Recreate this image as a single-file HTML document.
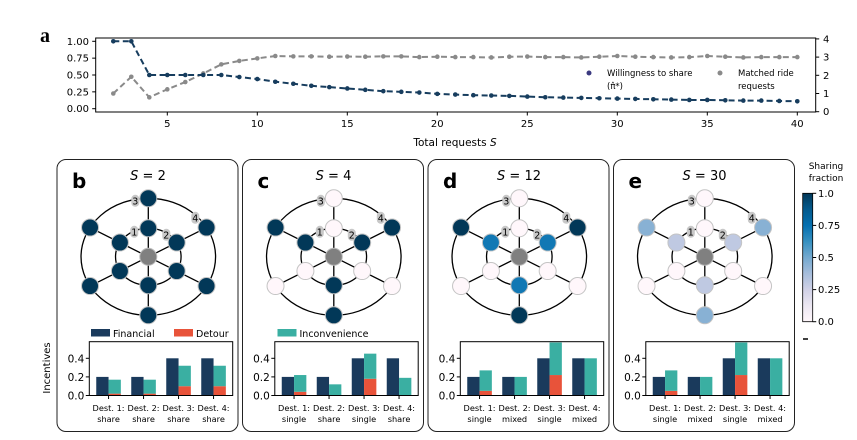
<!DOCTYPE html>
<html><head><meta charset="utf-8"><style>
body{margin:0;background:#fff;}
svg{display:block;font-family:"DejaVu Sans","Liberation Sans",sans-serif;}
</style></head><body>
<svg id="fig" width="857" height="440" viewBox="0 0 857 440"></svg>
<script>
// ---- panel a data ----
const reqS = [2,3,4,5,6,7,8,9,10,11,12,13,14,15,16,17,18,19,20,21,22,23,24,25,26,27,28,29,30,31,32,33,34,35,36,37,38,39,40];
const willingness = [1.0,1.0,0.5,0.5,0.5,0.5,0.5,0.47,0.44,0.40,0.37,0.34,0.32,0.30,0.28,0.26,0.25,0.24,0.22,0.21,0.20,0.195,0.19,0.18,0.17,0.165,0.16,0.155,0.15,0.145,0.14,0.135,0.13,0.13,0.125,0.12,0.12,0.115,0.11];
const matched = [1.0,1.92,0.79,1.23,1.63,2.1,2.6,2.79,2.93,3.06,3.04,3.04,3.02,3.03,3.02,3.04,3.04,3.0,3.02,3.0,3.0,2.98,3.02,3.03,3.0,3.0,2.98,3.02,3.06,3.02,3.0,2.98,3.0,3.06,3.02,2.98,3.0,3.0,3.0];
const xTicks = [5,10,15,20,25,30,35,40];
const yLeftTicks = ["0.00","0.25","0.50","0.75","1.00"];
const yRightTicks = [0,1,2,3,4];
// ---- panels b-e data ----
const panelLetters = ["b","c","d","e"];
const panelS = [2,4,12,30];
// node order: outerTop, innerTop, outerUL, innerUL, outerUR, innerUR, outerLL, innerLL, outerLR, innerLR, innerB, outerB
const nodeFractions = [
 [1,1,1,1,1,1,1,1,1,1,1,1],
 [0,0,1,1,1,1,0,0,0,0,1,1],
 [0,0,1,0.72,1,0.72,0,0,0,0,0.72,1],
 [0,0,0.45,0.3,0.45,0.3,0,0,0,0,0.3,0.45]
];
const destCats = ["Dest. 1:","Dest. 2:","Dest. 3:","Dest. 4:"];
const destModes = [["share","share","share","share"],["single","share","single","share"],["single","mixed","single","mixed"],["single","mixed","single","mixed"]];
const financial = [[0.2,0.2,0.4,0.4],[0.2,0.2,0.4,0.4],[0.2,0.2,0.4,0.4],[0.2,0.2,0.4,0.4]];
const detour = [[0.02,0.02,0.1,0.1],[0.04,0,0.18,0],[0.05,0,0.22,0],[0.05,0,0.22,0]];
const inconvenience = [[0.15,0.15,0.22,0.22],[0.18,0.12,0.27,0.19],[0.22,0.2,0.35,0.4],[0.22,0.2,0.35,0.4]];
const barTicks = ["0.0","0.2","0.4"];
const cbTicks = ["0.0","0.25","0.5","0.75","1.0"];

const NS="http://www.w3.org/2000/svg";
const svg=document.getElementById('fig');
function mk(tag,attrs,parent,txt){const e=document.createElementNS(NS,tag);for(const k in attrs)e.setAttribute(k,attrs[k]);if(txt!==undefined)e.textContent=txt;(parent||svg).appendChild(e);return e;}
const BLUE="#173d5e",GRAY="#8a8a8a",FIN="#1a3a5c",DET="#e8533a",INC="#3aafa2";
// PuBu colormap
const pubu=["#fff7fb","#ece7f2","#d0d1e6","#a6bddb","#74a9cf","#3690c0","#0570b0","#045a8d","#023858"];
function hx(c){return [1,3,5].map(i=>parseInt(c.substr(i,2),16));}
function cmap(v){const t=Math.max(0,Math.min(1,v))*(pubu.length-1);const i=Math.min(pubu.length-2,Math.floor(t));const f=t-i;const a=hx(pubu[i]),b=hx(pubu[i+1]);return "rgb("+a.map((x,k)=>Math.round(x+(b[k]-x)*f)).join(",")+")";}

// ---- panel a ----
const ax=s=>113.3+(s-2)*18;
const ayL=v=>108.7-v*67.4;
const ayR=v=>111.7-v*18.2;
let t=mk('text',{x:40,y:42,'font-family':'"Liberation Serif",serif','font-weight':'bold','font-size':20},svg,'a');

let frame=mk('rect',{x:95.7,y:38,width:720,height:74,fill:'none',stroke:'#000','stroke-width':1});

xTicks.forEach(v=>{mk('line',{x1:ax(v),x2:ax(v),y1:112,y2:115.5,stroke:'#000'});
 const e=mk('text',{x:ax(v),y:127,'text-anchor':'middle','font-size':10},svg,v);
 });
yLeftTicks.forEach(v=>{const y=ayL(parseFloat(v));mk('line',{x1:92.2,x2:95.7,y1:y,y2:y,stroke:'#000'});
 const e=mk('text',{x:89,y:y+3.5,'text-anchor':'end','font-size':10},svg,v);
 });
yRightTicks.forEach(v=>{const y=ayR(v);mk('line',{x1:815.7,x2:819.2,y1:y,y2:y,stroke:'#000'});
 const e=mk('text',{x:823,y:y+3.5,'font-size':10},svg,v);
 });
t=mk('text',{x:455,y:146,'text-anchor':'middle','font-size':10.5},svg,'');
t.innerHTML='Total requests <tspan font-style="italic">S</tspan>';

function series(vals,yf,col,name){
 const pts=reqS.map((s,i)=>ax(s)+","+yf(vals[i])).join(" ");
 const l=mk('polyline',{points:pts,fill:'none',stroke:col,'stroke-width':2,'stroke-dasharray':'6,3.5'});
 
 reqS.forEach((s,i)=>{const c=mk('circle',{cx:ax(s),cy:yf(vals[i]),r:2.3,fill:col});
  });
}
series(matched,ayR,GRAY,'matched-requests');
series(willingness,ayL,BLUE,'willingness');
let g=mk('g',{});
mk('circle',{cx:589,cy:73,r:2.5,fill:'#3b3a80'},g);
mk('text',{x:607,y:76,'font-size':8.5},g,'Willingness to share');
mk('text',{x:607,y:89,'font-size':8.5},g,'(π̂*)');
mk('circle',{cx:720,cy:73,r:2.5,fill:GRAY},g);
mk('text',{x:738,y:76,'font-size':8.5},g,'Matched ride');
mk('text',{x:738,y:89,'font-size':8.5},g,'requests');

// ---- panels b-e ----
const lefts=[57,242.5,428,613.5];
const hexAng=[-90,-90,-150,-150,-30,-30,150,150,30,30,90,90];
const hexR=[58.5,28.5,58.5,28.5,58.5,28.5,58.5,28.5,58.5,28.5,28.5,58.5];
const numLbl=[["3",-13,-56],["1",-14,-25],["2",18,-22],["4",47,-39]];
panelLetters.forEach((letter,p)=>{
 const L=lefts[p];
 const pg=mk('g',{});
 const box=mk('rect',{x:L,y:159.5,width:181,height:272,rx:9,fill:'none',stroke:'#222','stroke-width':1},pg);
 
 let e=mk('text',{x:L+15,y:188,'font-weight':'bold','font-size':20},pg,letter);
 
 e=mk('text',{x:L+91,y:180,'text-anchor':'middle','font-size':13},pg,'');
 e.innerHTML='<tspan font-style="italic">S</tspan> = '+panelS[p];
 
 const cx=L+91.3,cy=256.8,st=1.15;
 const np=hexAng.map((a,i)=>[cx+Math.cos(a*Math.PI/180)*hexR[i]*st,cy+Math.sin(a*Math.PI/180)*hexR[i]]);
 const ng=mk('g',{},pg);
 mk('ellipse',{cx:cx,cy:cy,rx:58.5*st,ry:58.5,fill:'none',stroke:'#000','stroke-width':1.3},ng);
 mk('ellipse',{cx:cx,cy:cy,rx:28.5*st,ry:28.5,fill:'none',stroke:'#000','stroke-width':1.3},ng);
 np.forEach((q,i)=>{if(hexR[i]>40)mk('line',{x1:cx,y1:cy,x2:q[0],y2:q[1],stroke:'#000','stroke-width':1.3},ng);});
 numLbl.forEach(n=>{const b=mk('rect',{x:cx+n[1]-4,y:cy+n[2]-6,width:8,height:12,rx:4,fill:'#c8c8c8'},ng);
  const tx=mk('text',{x:cx+n[1],y:cy+n[2]+3.5,'text-anchor':'middle','font-size':9.5},ng,n[0]);
  });
 const cc=mk('circle',{cx:cx,cy:cy,r:8.5,fill:'#808080',stroke:'#bbb','stroke-width':1},ng);
 
 np.forEach((q,i)=>{const c=mk('circle',{cx:q[0],cy:q[1],r:8.5,fill:cmap(nodeFractions[p][i]),stroke:'#c4c4c4','stroke-width':1},ng);
  });
 // legend
 if(p===0){
  const lg=mk('g',{},pg);
  mk('rect',{x:L+34,y:329,width:19,height:7.5,fill:FIN},lg);mk('text',{x:L+56,y:337,'font-size':9.5},lg,'Financial');
  mk('rect',{x:L+117,y:329,width:19,height:7.5,fill:DET},lg);mk('text',{x:L+139,y:337,'font-size':9.5},lg,'Detour');
 }
 if(p===1){
  const lg=mk('g',{},pg);
  mk('rect',{x:L+35,y:329,width:19,height:7.5,fill:INC},lg);mk('text',{x:L+57,y:337,'font-size':9.5},lg,'Inconvenience');
 }
 // bar chart
 const x0=L+32.3,x1=L+175.7,yb=395.5,scale=93;
 const bx=i=>x0+(i+0.55)*35;
 const by=v=>yb-v*scale;
 const bc=mk('g',{},pg);
 destCats.forEach((c,i)=>{
  let r=mk('rect',{x:bx(i)-12.3,y:by(financial[p][i]),width:12.3,height:financial[p][i]*scale,fill:FIN},bc);
  
  r=mk('rect',{x:bx(i),y:by(detour[p][i]),width:12.3,height:detour[p][i]*scale,fill:DET},bc);
  
  r=mk('rect',{x:bx(i),y:by(detour[p][i]+inconvenience[p][i]),width:12.3,height:inconvenience[p][i]*scale,fill:INC},bc);
  
  mk('line',{x1:bx(i),x2:bx(i),y1:yb,y2:yb+3.5,stroke:'#000'},bc);
  let tx=mk('text',{x:bx(i),y:411,'text-anchor':'middle','font-size':8.2},bc,c);
  
  tx=mk('text',{x:bx(i),y:422,'text-anchor':'middle','font-size':8.2},bc,destModes[p][i]);
  
 });
 mk('rect',{x:x0,y:341.7,width:x1-x0,height:yb-341.7,fill:'none',stroke:'#000','stroke-width':1},bc);
 barTicks.forEach(v=>{const y=by(parseFloat(v));mk('line',{x1:x0-3.5,x2:x0,y1:y,y2:y,stroke:'#000'},bc);
  const tx=mk('text',{x:x0-5,y:y+4,'text-anchor':'end','font-size':10.5},bc,v);
  });
});
t=mk('text',{x:0,y:0,'text-anchor':'middle','font-size':10,transform:'translate(50,368) rotate(-90)'},svg,'Incentives');


// colorbar
const cb=mk('g',{});
const defs=mk('defs',{},cb);const lgd=mk('linearGradient',{id:'cbg',x1:0,y1:1,x2:0,y2:0},defs);
pubu.forEach((c,i)=>mk('stop',{offset:(i/(pubu.length-1)),'stop-color':c},lgd));
mk('rect',{x:802.7,y:193.3,width:10,height:128.4,fill:'url(#cbg)',stroke:'#000','stroke-width':0.8},cb);
cbTicks.forEach(v=>{const y=321.7-parseFloat(v)*128.4;mk('line',{x1:812.7,x2:816.2,y1:y,y2:y,stroke:'#000'},cb);
 const tx=mk('text',{x:818,y:y+3.5,'font-size':10},cb,v);
 });
mk('text',{x:826,y:169,'text-anchor':'middle','font-size':9},cb,'Sharing');
mk('text',{x:826,y:181,'text-anchor':'middle','font-size':9},cb,'fraction');
mk('line',{x1:803,x2:808,y1:339,y2:339,stroke:'#000','stroke-width':1.5},cb);
</script>
</body></html>
